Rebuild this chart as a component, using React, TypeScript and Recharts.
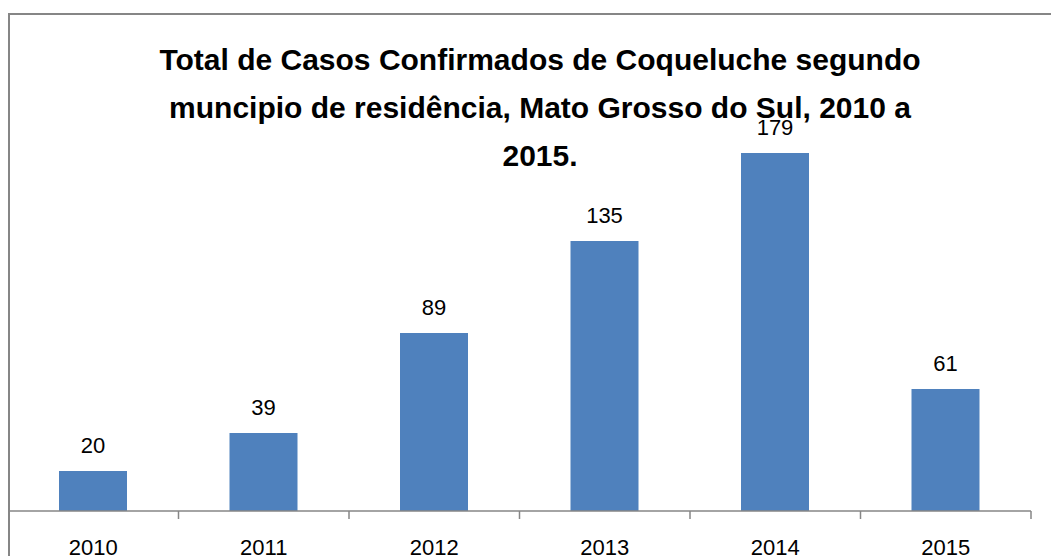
import { Bar, BarChart, LabelList, XAxis, YAxis } from "recharts";

const years = ["2010", "2011", "2012", "2013", "2014", "2015"];
const casos = [20, 39, 89, 135, 179, 61];
const boundaryTicks = [0, 1, 2, 3, 4, 5, 6];
const titleLines = [
  "Total de Casos Confirmados de Coqueluche segundo",
  "muncipio de residência, Mato Grosso do Sul, 2010 a",
  "2015.",
];

const chartData = years.map((ano, i) => ({ ano, casos: casos[i], pos: i + 0.5 }));

const FONT = "'Liberation Sans', Arial, sans-serif";
const AXIS_GRAY = "#868686";
const W = 1051;
const H = 548;
const MARGIN = { top: 103, right: 28, left: 0, bottom: 0 };

export default function App() {
  return (
    <div
      style={{
        position: "relative",
        width: W,
        height: H,
        overflow: "hidden",
        fontFamily: FONT,
      }}
    >
      <div
        style={{
          position: "absolute",
          left: 0,
          top: 5,
          width: 1100,
          height: 700,
          border: `2px solid ${AXIS_GRAY}`,
          boxSizing: "border-box",
        }}
      />
      <div style={{ position: "absolute", left: 0, top: 0 }}>
        <BarChart width={W} height={H} data={chartData} margin={MARGIN}>
          <XAxis
            dataKey="ano"
            height={45}
            axisLine={{ stroke: AXIS_GRAY, strokeWidth: 1.5 }}
            tickLine={false}
            tickSize={8}
            tickMargin={20}
            tick={{ fontSize: 22, fill: "#000", fontFamily: FONT }}
            interval={0}
          />
          <YAxis hide domain={[0, 200]} />
          <Bar dataKey="casos" fill="#4F81BD" barSize={68} isAnimationActive={false}>
            <LabelList
              dataKey="casos"
              position="top"
              offset={18}
              style={{ fontSize: 22, fill: "#000", fontFamily: FONT }}
            />
          </Bar>
        </BarChart>
      </div>
      {/* category boundary tick marks, drawn by a numeric axis on an overlaid chart */}
      <div style={{ position: "absolute", left: 0, top: 0, pointerEvents: "none" }}>
        <BarChart width={W} height={H} data={chartData} margin={MARGIN}>
          <XAxis
            dataKey="pos"
            type="number"
            domain={[0, 6]}
            ticks={boundaryTicks}
            allowDataOverflow
            interval={0}
            height={45}
            axisLine={false}
            tickSize={8}
            tickLine={{ stroke: AXIS_GRAY, strokeWidth: 1.5 }}
            tickFormatter={() => ""}
          />
          <YAxis hide domain={[0, 200]} />
          <Bar dataKey="casos" fill="transparent" barSize={1} isAnimationActive={false} />
        </BarChart>
      </div>
      <svg
        width={W}
        height={200}
        style={{ position: "absolute", left: 0, top: 0, pointerEvents: "none" }}
      >
        {titleLines.map((line, i) => (
          <text
            key={i}
            x={532}
            y={62 + i * 48}
            textAnchor="middle"
            fontFamily={FONT}
            fontWeight="bold"
            fontSize={30}
            fill="#000"
          >
            {line}
          </text>
        ))}
      </svg>
    </div>
  );
}
